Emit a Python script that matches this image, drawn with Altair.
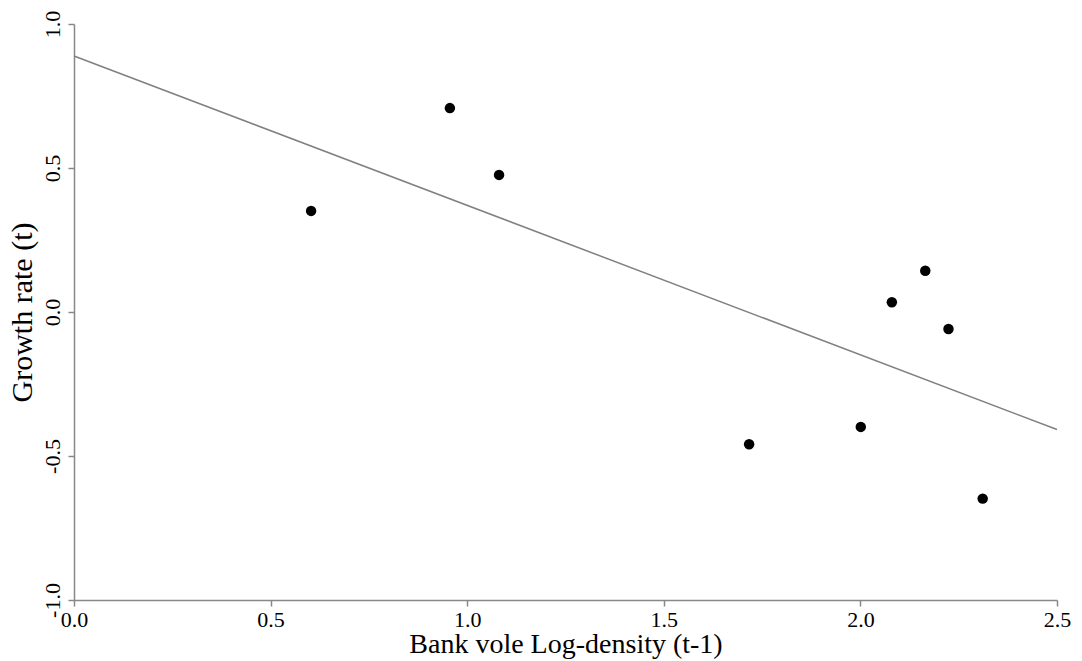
import altair as alt
import pandas as pd

# Bank vole log-density at t-1 and population growth rate at t
log_density = [0.603, 0.956, 1.081, 1.717, 2.001, 2.080, 2.165, 2.224, 2.311]
growth_rate = [0.351, 0.708, 0.476, -0.459, -0.399, 0.034, 0.143, -0.059, -0.648]

df = pd.DataFrame({"density": log_density, "growth": growth_rate})

FONT = "Liberation Serif"
label_expr = "(datum.value < 0 ? '-' : '') + format(abs(datum.value), '.1f')"

x_enc = alt.X(
    "density:Q",
    scale=alt.Scale(domain=[0, 2.5], nice=False, zero=False),
    axis=alt.Axis(
        title="Bank vole Log-density (t-1)",
        values=[0, 0.5, 1.0, 1.5, 2.0, 2.5],
        labelExpr=label_expr,
        labelFlush=False,
        grid=False,
        domainColor="#888888",
        tickColor="#888888",
        tickSize=6,
        labelPadding=3,
        titlePadding=0,
        titleFontSize=28,
    ),
)
y_enc = alt.Y(
    "growth:Q",
    scale=alt.Scale(domain=[-1, 1], nice=False, zero=False),
    axis=alt.Axis(
        title="Growth rate (t)",
        values=[-1.0, -0.5, 0.0, 0.5, 1.0],
        labelExpr=label_expr,
        labelAngle=-90,
        labelAlign="center",
        labelBaseline="bottom",
        labelFlush=False,
        grid=False,
        domainColor="#888888",
        tickColor="#888888",
        tickSize=6,
        labelPadding=4,
        titlePadding=4,
        titleFontSize=30,
    ),
)

base = alt.Chart(df)

points = base.mark_circle(size=110, color="black", opacity=1).encode(x=x_enc, y=y_enc)

fit = (
    base.transform_regression("density", "growth", extent=[0, 2.5])
    .mark_line(color="#808080", strokeWidth=1.5)
    .encode(x=x_enc, y=y_enc)
)

chart = (
    alt.layer(fit, points)
    .properties(
        width=983,
        height=576,
        autosize=alt.AutoSizeParams(type="none"),
        padding={"left": 74, "top": 24, "right": 25, "bottom": 61},
        background="white",
    )
    .configure_view(stroke=None)
    .configure_axis(
        labelFont=FONT,
        titleFont=FONT,
        labelFontSize=22,
        labelColor="black",
        titleColor="black",
        titleFontWeight="normal",
        domainWidth=1.5,
        tickWidth=1.5,
    )
)

chart.save("out.html", embed_options={"renderer": "svg", "actions": False})
